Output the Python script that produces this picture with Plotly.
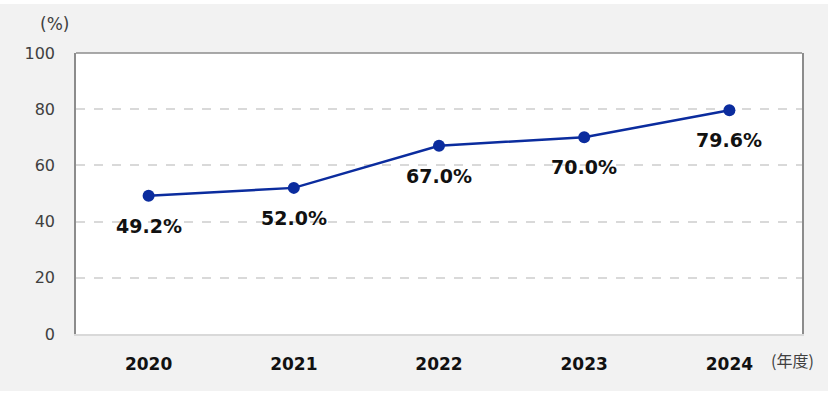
import plotly.graph_objects as go

years = ["2020", "2021", "2022", "2023", "2024"]
rates = [49.2, 52.0, 67.0, 70.0, 79.6]
labels = ["49.2%", "52.0%", "67.0%", "70.0%", "79.6%"]
y_ticks = [0, 20, 40, 60, 80, 100]

FONT = "DejaVu Sans"
LINE = "#0b2c9e"

fig = go.Figure()
fig.add_trace(go.Scatter(
    x=years, y=rates, mode="lines+markers",
    line=dict(color=LINE, width=2.5),
    marker=dict(color=LINE, size=12),
    hoverinfo="skip", showlegend=False,
))

for i, (y, t) in enumerate(zip(rates, labels)):
    fig.add_annotation(x=i, y=y, xref="x", yref="y", text="<b>" + t + "</b>",
                       showarrow=False, yshift=-30, xanchor="center", yanchor="middle",
                       font=dict(family=FONT, size=19, color="#111111"))

fig.add_annotation(xref="paper", yref="paper", x=-0.029, y=1.104, text="(%)",
                   showarrow=False, xanchor="center", yanchor="middle",
                   font=dict(family=FONT, size=17, color="#404040"))
fig.add_annotation(xref="paper", yref="paper", x=0.9876, y=-0.0925, text="(年度)",
                   showarrow=False, xanchor="center", yanchor="middle",
                   font=dict(family="Noto Sans CJK JP", size=16, color="#404040"))

# white edge strips around the grey background
fig.add_shape(type="rect", xref="paper", yref="paper", x0=-0.2, x1=1.2,
              y0=1.1744, y1=1.3, fillcolor="white", line_width=0, layer="below")
fig.add_shape(type="rect", xref="paper", yref="paper", x0=-0.2, x1=1.2,
              y0=-0.4, y1=-0.2028, fillcolor="white", line_width=0, layer="below")
fig.add_shape(type="rect", xref="paper", yref="paper", x0=1.0358, x1=1.2,
              y0=-0.4, y1=1.3, fillcolor="white", line_width=0, layer="below")
# top border of plot area
fig.add_shape(type="line", xref="paper", yref="paper", x0=0, x1=1, y0=1, y1=1,
              line=dict(color="#8c8c8c", width=1.5))

fig.update_layout(
    width=831, height=395,
    margin=dict(l=76, r=29, t=53, b=61),
    paper_bgcolor="#f2f2f2", plot_bgcolor="white",
    font=dict(family=FONT),
    xaxis=dict(
        type="category", range=[-0.5, 4.5],
        showgrid=False, showline=True, linecolor="#d9d9d9", linewidth=2,
        ticks="", ticklabelstandoff=14,
        tickfont=dict(family=FONT, size=17, color="#111111", weight="bold"),
        fixedrange=True,
    ),
    yaxis=dict(
        range=[0, 100], tickvals=y_ticks,
        showgrid=True, gridcolor="#d9d9d9", griddash="dash", gridwidth=1.5,
        zeroline=False, showline=True, linecolor="#8c8c8c", linewidth=1.5,
        mirror=True, ticks="", ticklabelstandoff=16,
        tickfont=dict(family=FONT, size=16, color="#404040"),
        fixedrange=True,
    ),
)

fig.write_html("out.html", config={"displayModeBar": False},
               post_script="document.body.style.margin='0';")
